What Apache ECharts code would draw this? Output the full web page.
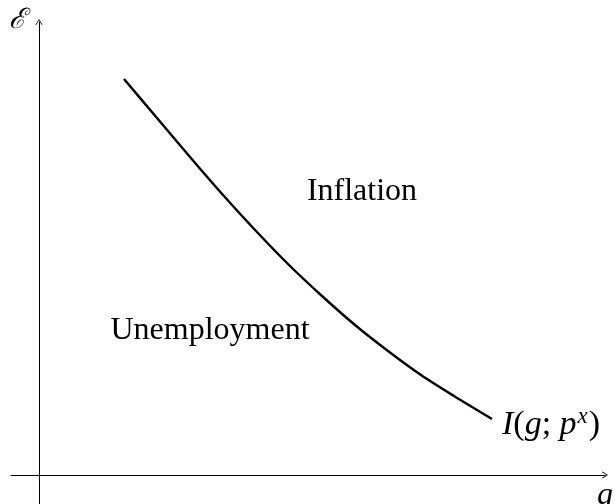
<!DOCTYPE html>
<html>
<head>
<meta charset="utf-8">
<script src="https://cdn.jsdelivr.net/npm/echarts@6/dist/echarts.min.js"></script>
<style>html,body{margin:0;padding:0;background:#fff}#c{width:615px;height:504px}</style>
</head>
<body>
<div id="c"></div>
<script>
// Curve I(g; p^x): g (horizontal) and E (vertical) values
const curveG = [85, 118, 151, 184, 217, 250, 283, 316, 349, 382, 415, 453];
const curveE = [396, 357, 318, 280, 244, 210, 179, 150, 124, 100, 79, 56];
const regionLabels = ['Inflation', 'Unemployment'];
const axisNames = { x: 'g', y: 'ℰ' };

const chart = echarts.init(document.getElementById('c'), null, { renderer: 'canvas' });
const serif = 'Liberation Serif';
const arrow = 'path://M5,0 L10,8 L9,8.8 L5,2 L1,8.8 L0,8 Z';

chart.setOption({
  animation: false,
  grid: { left: 11, right: 10, top: 22, bottom: 0 },
  xAxis: {
    type: 'value', min: -28, max: 566,
    axisLine: { onZero: true, lineStyle: { color: '#000', width: 1 }, symbol: ['none', arrow], symbolSize: [8, 6] },
    axisTick: { show: false }, axisLabel: { show: false }, splitLine: { show: false }
  },
  yAxis: {
    type: 'value', min: -29, max: 453,
    axisLine: { onZero: true, lineStyle: { color: '#000', width: 1 }, symbol: ['none', arrow], symbolSize: [8, 6] },
    axisTick: { show: false }, axisLabel: { show: false }, splitLine: { show: false }
  },
  series: [{
    type: 'line',
    data: curveG.map((g, i) => [g, curveE[i]]),
    smooth: 0.3,
    showSymbol: false,
    lineStyle: { color: '#000', width: 2.4 },
    endLabel: {
      show: true,
      distance: 10,
      offset: [0, 6],
      formatter: '{it|I}({it|g}; {it|p}{sup|x})',
      color: '#000',
      fontFamily: serif,
      fontSize: 34,
      rich: {
        it: { fontFamily: serif, fontStyle: 'italic', fontSize: 34, color: '#000' },
        sup: { fontFamily: serif, fontStyle: 'italic', fontSize: 23, color: '#000', padding: [0, 1, 16, 1] }
      }
    }
  }],
  graphic: [
    { type: 'text', x: 362, y: 192, style: { text: regionLabels[0], font: '32px "Liberation Serif"', fill: '#000', textAlign: 'center', textVerticalAlign: 'middle' } },
    { type: 'text', x: 210, y: 331, style: { text: regionLabels[1], font: '32px "Liberation Serif"', fill: '#000', textAlign: 'center', textVerticalAlign: 'middle' } },
    { type: 'text', x: 17, y: 21, style: { text: axisNames.y, font: 'italic 28px "DejaVu Serif"', fill: '#000', textAlign: 'center', textVerticalAlign: 'middle' } },
    { type: 'text', x: 605, y: 496, style: { text: axisNames.x, font: 'italic 32px "Liberation Serif"', fill: '#000', textAlign: 'center', textVerticalAlign: 'middle' } }
  ]
});
</script>
</body>
</html>
